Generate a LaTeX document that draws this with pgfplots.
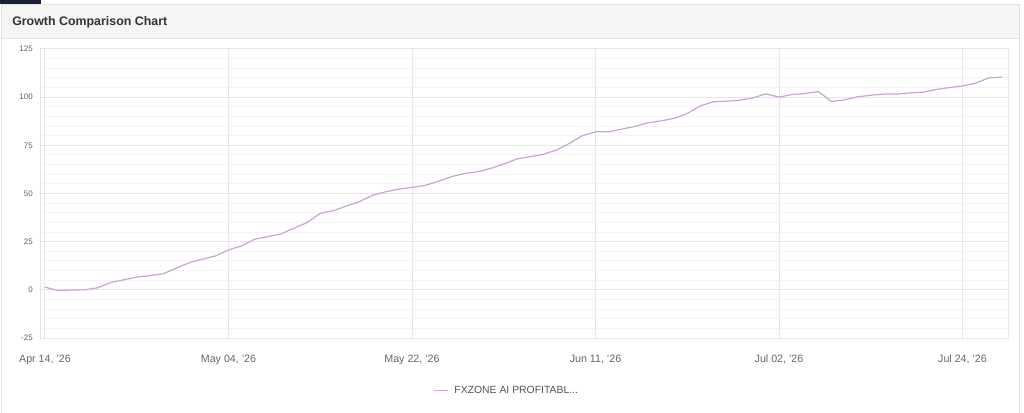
\documentclass[border=0pt]{standalone}
\usepackage{fontspec}
\setmainfont{Liberation Sans}
\usepackage{pgfplots}
\pgfplotsset{compat=1.18}
\definecolor{linec}{RGB}{203,164,212}
\definecolor{navy}{RGB}{27,33,52}
\definecolor{cardborder}{RGB}{226,226,226}
\definecolor{headbg}{RGB}{245,245,245}
\definecolor{titlec}{RGB}{51,51,51}
\definecolor{tickc}{RGB}{102,102,102}
\definecolor{legc}{RGB}{85,85,85}
\definecolor{gridmaj}{RGB}{230,230,230}
\definecolor{gridmin}{RGB}{244,244,244}
\pgfplotstableread{
idx val
0 1.4
1 -0.4
2 -0.1
3 0.0
4 1.0
5 3.8
6 5.2
7 6.6
8 7.4
9 8.3
10 11.2
11 14.1
12 15.9
13 17.6
14 20.7
15 22.8
16 26.3
17 27.6
18 29.0
19 32.0
20 34.9
21 39.7
22 41.1
23 43.5
24 45.8
25 49.1
26 50.9
27 52.3
28 53.2
29 54.2
30 56.3
31 58.7
32 60.4
33 61.3
34 63.0
35 65.3
36 67.9
37 69.1
38 70.3
39 72.5
40 76.0
41 80.0
42 82.0
43 82.0
44 83.4
45 84.8
46 86.7
47 87.7
48 89.0
49 91.5
50 95.5
51 97.6
52 97.9
53 98.4
54 99.6
55 101.7
56 100.0
57 101.4
58 101.9
59 102.9
60 97.8
61 98.6
62 100.2
63 101.0
64 101.6
65 101.6
66 102.2
67 102.6
68 104.0
69 105.0
70 105.8
71 107.3
72 110.0
73 110.4
}\growth
\begin{document}
\begin{tikzpicture}[x=0.75pt,y=-0.75pt]
\useasboundingbox (0,0) rectangle (1024,413);
\fill[white] (0,0) rectangle (1024,413);
\filldraw[fill=white, draw=cardborder, line width=0.75pt] (1,4.5) rectangle (1019,425);
\filldraw[fill=headbg, draw=cardborder, line width=0.75pt] (1,4.5) rectangle (1019,39);
\fill[navy] (0,0) rectangle (41,4);
\node[anchor=base west, inner sep=0pt, font=\fontsize{9.3}{11}\selectfont\bfseries, text=titlec] at (12,26) {Growth Comparison Chart};
\begin{axis}[
  at={(30pt,-253.5pt)}, anchor=south west,
  scale only axis, width=726pt, height=216.75pt,
  xmin=-0.38, xmax=73.47, ymin=-25, ymax=125,
  xtick={0,14,28,42,56,70},
  xticklabels={{Apr 14, '26},{May 04, '26},{May 22, '26},{Jun 11, '26},{Jul 02, '26},{Jul 24, '26}},
  ytick={-25,0,25,50,75,100,125},
  minor y tick num=4,
  grid=both,
  major grid style={draw=gridmaj, line width=0.75pt},
  minor grid style={draw=gridmin, line width=0.75pt},
  axis line style={draw=gridmaj, line width=0.75pt},
  major tick length=0pt, minor tick length=0pt,
  /pgf/number format/assume math mode=true,
  yticklabel style={font=\fontsize{6}{7}\selectfont, text=tickc, anchor=east, inner sep=0pt, xshift=-5.25pt},
  xticklabel style={font=\fontsize{8}{9}\selectfont, text=tickc, anchor=base, inner sep=0pt, yshift=-18pt},
  legend style={at={(0.406,-0.183)}, anchor=west, draw=none, fill=none, inner sep=0pt,
    font=\fontsize{7.8}{9}\selectfont, text=legc,
    nodes={inner sep=0pt},
    /tikz/every odd column/.append style={column sep=4.5pt}},
  legend image code/.code={\draw[#1] (0pt,0pt) -- (10.5pt,0pt);},
]
\addplot[color=linec, line width=0.9pt, mark=none] table[x=idx, y=val] {\growth};
\addlegendentry{FXZONE AI PROFITABL...}
\end{axis}
\end{tikzpicture}
\end{document}
